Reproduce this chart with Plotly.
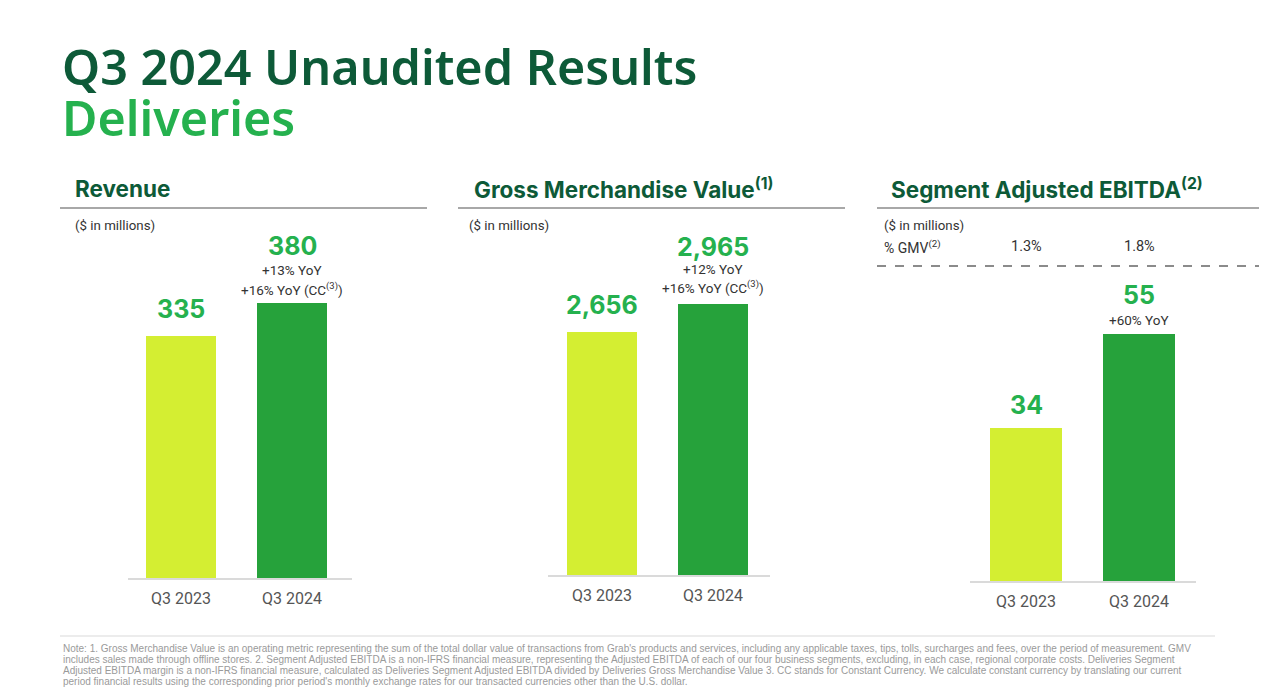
import plotly.graph_objects as go

W, H = 1280, 696

categories = ["Q3 2023", "Q3 2024"]
revenue = [335, 380]
gmv = [2656, 2965]
ebitda = [34, 55]
revenue_yoy = ["+13% YoY", "+16% YoY (CC<sup>(3)</sup>)"]
gmv_yoy = ["+12% YoY", "+16% YoY (CC<sup>(3)</sup>)"]
ebitda_yoy = ["+60% YoY"]
gmv_margin = ["1.3%", "1.8%"]

bar_colors = ["#D4EE32", "#26A23B"]
DARK = "#0D5A38"
BRIGHT = "#25B14E"
GREY = "#555555"

footnote = [
    "Note: 1. Gross Merchandise Value is an operating metric representing the sum of the total dollar value of transactions from Grab's products and services, including any applicable taxes, tips, tolls, surcharges and fees, over the period of measurement. GMV",
    "includes sales made through offline stores. 2. Segment Adjusted EBITDA is a non-IFRS financial measure, representing the Adjusted EBITDA of each of our four business segments, excluding, in each case, regional corporate costs. Deliveries Segment",
    "Adjusted EBITDA margin is a non-IFRS financial measure, calculated as Deliveries Segment Adjusted EBITDA divided by Deliveries Gross Merchandise Value 3. CC stands for Constant Currency. We calculate constant currency by translating our current",
    "period financial results using the corresponding prior period's monthly exchange rates for our transacted currencies other than the U.S. dollar.",
]


def px(x):
    return x / W


def py(y):
    return 1 - y / H


panels = [
    dict(vals=revenue, l=128, r=352, c0=181, c1=292, base=578, top=205, scale=242 / 335, bw=70),
    dict(vals=gmv, l=548, r=770, c0=602, c1=713, base=575, top=205, scale=243 / 2656, bw=70),
    dict(vals=ebitda, l=970, r=1196, c0=1026, c1=1139, base=581, top=270, scale=153 / 34, bw=72),
]

fig = go.Figure()
annotations = []
shapes = []

for i, p in enumerate(panels):
    n = "" if i == 0 else str(i + 1)
    b = p["c1"] - p["c0"]
    xr = [(p["l"] - p["c0"]) / b, (p["r"] - p["c0"]) / b]
    yr = [0, (p["base"] - p["top"]) / p["scale"]]
    fig.add_trace(go.Bar(
        x=[0, 1], y=p["vals"], width=p["bw"] / b,
        marker=dict(color=bar_colors, line=dict(width=0)),
        xaxis="x" + n, yaxis="y" + n, hoverinfo="skip",
    ))
    fig.update_layout(**{
        "xaxis" + n: dict(
            domain=[px(p["l"]), px(p["r"])], range=xr, anchor="y" + n,
            tickmode="array", tickvals=[0, 1], ticktext=categories,
            showline=True, linecolor="#DADADA", linewidth=2, showgrid=False,
            zeroline=False, ticks="", ticklabelstandoff=5,
            tickfont=dict(family="Roboto", size=16, color=GREY), fixedrange=True,
        ),
        "yaxis" + n: dict(
            domain=[py(p["base"]), py(p["top"])], range=yr, anchor="x" + n,
            visible=False, fixedrange=True,
        ),
    })
    for j, v in enumerate(p["vals"]):
        if i == 2 and j == 0:
            ys = 23
        elif j == 0:
            ys = 27
        elif i < 2:
            ys = 57
        else:
            ys = 39
        annotations.append(dict(
            x=j, y=v, xref="x" + n, yref="y" + n, text=f"<b>{v:,}</b>",
            showarrow=False, yanchor="middle", yshift=ys,
            font=dict(family="Inter", size=25, color=BRIGHT),
        ))

yoy_sets = [(0, revenue_yoy, [33, 14]), (1, gmv_yoy, [35, 17]), (2, ebitda_yoy, [14])]
for i, lines, shifts in yoy_sets:
    n = "" if i == 0 else str(i + 1)
    for t, s in zip(lines, shifts):
        annotations.append(dict(
            x=1, y=panels[i]["vals"][1], xref="x" + n, yref="y" + n, text=t,
            showarrow=False, yanchor="middle", yshift=s,
            font=dict(family="Roboto", size=13.5, color="#333333"),
        ))

annotations.append(dict(x=px(60), y=py(66), xref="paper", yref="paper", text="Q3 2024 Unaudited Results",
                        showarrow=False, xanchor="left", yanchor="middle",
                        font=dict(family="Noto Sans", size=48.5, color=DARK, weight=600)))
annotations.append(dict(x=px(60), y=py(117), xref="paper", yref="paper", text="Deliveries",
                        showarrow=False, xanchor="left", yanchor="middle",
                        font=dict(family="Noto Sans", size=48.5, color=BRIGHT, weight=600)))

headers = [("Revenue", 73, 60, 427), ("Gross Merchandise Value<sup>(1)</sup>", 472, 458, 845),
           ("Segment Adjusted EBITDA<sup>(2)</sup>", 889, 877, 1259)]
for t, x, l, r in headers:
    annotations.append(dict(x=px(x), y=py(188), xref="paper", yref="paper", text=f"<b>{t}</b>",
                            showarrow=False, xanchor="left", yanchor="middle",
                            font=dict(family="Inter", size=22.5, color=DARK)))
    shapes.append(dict(type="line", xref="paper", yref="paper", x0=px(l), x1=px(r), y0=py(208), y1=py(208),
                       line=dict(color="#A8A8A8", width=2)))

for x in (73, 467, 882):
    annotations.append(dict(x=px(x), y=py(226), xref="paper", yref="paper", text="($ in millions)",
                            showarrow=False, xanchor="left", yanchor="middle",
                            font=dict(family="Roboto", size=13.3, color="#333333")))

annotations.append(dict(x=px(882), y=py(247), xref="paper", yref="paper", text="% GMV<sup>(2)</sup>",
                        showarrow=False, xanchor="left", yanchor="middle",
                        font=dict(family="Roboto", size=14, color="#333333")))
for j, t in enumerate(gmv_margin):
    annotations.append(dict(x=j, y=py(247), xref="x3", yref="paper", text=t,
                            showarrow=False, xanchor="center", yanchor="middle",
                            font=dict(family="Roboto", size=14.5, color="#333333")))
shapes.append(dict(type="line", xref="paper", yref="paper", x0=px(877), x1=px(1259), y0=py(266), y1=py(266),
                   line=dict(color="#666666", width=1.3, dash="dash")))

shapes.append(dict(type="line", xref="paper", yref="paper", x0=px(60), x1=px(1215), y0=py(636), y1=py(636),
                   line=dict(color="#E6E6E6", width=1.5)))
for k, line in enumerate(footnote):
    annotations.append(dict(x=px(61), y=py(648 + 11 * k), xref="paper", yref="paper", text=line,
                            showarrow=False, xanchor="left", yanchor="middle", align="left",
                            font=dict(family="Liberation Sans", size=10, color="#9A9A9A")))

fig.update_layout(
    width=W, height=H, margin=dict(l=0, r=0, t=0, b=0),
    paper_bgcolor="white", plot_bgcolor="white", showlegend=False,
    annotations=annotations, shapes=shapes, bargap=0,
)

fig.write_html("out.html", config={"displayModeBar": False},
               post_script="document.body.style.margin='0';")
